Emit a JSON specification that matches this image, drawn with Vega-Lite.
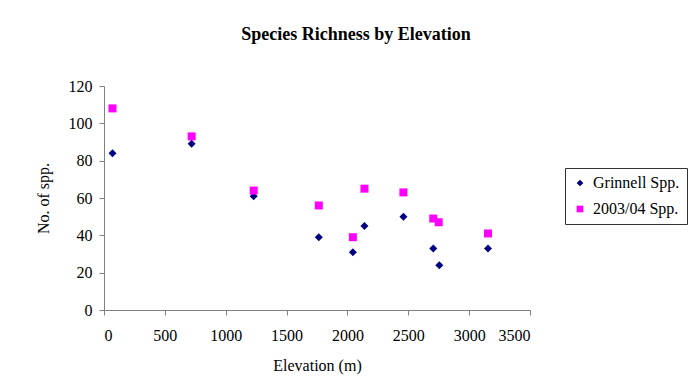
{
  "$schema": "https://vega.github.io/schema/vega-lite/v6.json",
  "autosize": "none",
  "width": 426,
  "height": 224,
  "padding": {"left": 104, "top": 86, "right": 159, "bottom": 81},
  "background": "white",
  "config": {
    "view": {"stroke": null},
    "font": "Liberation Serif, Times New Roman, serif"
  },
  "title": {
    "text": "Species Richness by Elevation",
    "font": "Liberation Serif, Times New Roman, serif",
    "fontSize": 18,
    "fontWeight": "bold",
    "color": "black",
    "anchor": "middle",
    "dx": 39,
    "offset": 34
  },
  "data": {
    "values": [
      {"elevation": 70, "richness": 84, "series": "Grinnell Spp."},
      {"elevation": 720, "richness": 89, "series": "Grinnell Spp."},
      {"elevation": 1230, "richness": 61, "series": "Grinnell Spp."},
      {"elevation": 1765, "richness": 39, "series": "Grinnell Spp."},
      {"elevation": 2045, "richness": 31, "series": "Grinnell Spp."},
      {"elevation": 2140, "richness": 45, "series": "Grinnell Spp."},
      {"elevation": 2460, "richness": 50, "series": "Grinnell Spp."},
      {"elevation": 2705, "richness": 33, "series": "Grinnell Spp."},
      {"elevation": 2755, "richness": 24, "series": "Grinnell Spp."},
      {"elevation": 3155, "richness": 33, "series": "Grinnell Spp."},
      {"elevation": 70, "richness": 108, "series": "2003/04 Spp."},
      {"elevation": 720, "richness": 93, "series": "2003/04 Spp."},
      {"elevation": 1230, "richness": 64, "series": "2003/04 Spp."},
      {"elevation": 1765, "richness": 56, "series": "2003/04 Spp."},
      {"elevation": 2045, "richness": 39, "series": "2003/04 Spp."},
      {"elevation": 2140, "richness": 65, "series": "2003/04 Spp."},
      {"elevation": 2460, "richness": 63, "series": "2003/04 Spp."},
      {"elevation": 2705, "richness": 49, "series": "2003/04 Spp."},
      {"elevation": 2750, "richness": 47, "series": "2003/04 Spp."},
      {"elevation": 3155, "richness": 41, "series": "2003/04 Spp."}
    ]
  },
  "mark": {"type": "point", "filled": true, "opacity": 1, "size": 64},
  "encoding": {
    "x": {
      "field": "elevation",
      "type": "quantitative",
      "scale": {"domain": [0, 3500], "nice": false, "zero": true},
      "axis": {
        "title": "Elevation (m)",
        "values": [0, 500, 1000, 1500, 2000, 2500, 3000, 3500],
        "format": "d",
        "grid": false,
        "domainColor": "#808080",
        "tickColor": "#808080",
        "tickSize": 5,
        "labelFont": "Liberation Serif, Times New Roman, serif",
        "labelFontSize": 16,
        "labelColor": "black",
        "labelPadding": 12,
        "titleFont": "Liberation Serif, Times New Roman, serif",
        "titleFontSize": 16,
        "titleFontWeight": "normal",
        "titleColor": "black",
        "titlePadding": 14
      }
    },
    "y": {
      "field": "richness",
      "type": "quantitative",
      "scale": {"domain": [0, 120], "nice": false},
      "axis": {
        "title": "No. of spp.",
        "values": [0, 20, 40, 60, 80, 100, 120],
        "grid": false,
        "domainColor": "#808080",
        "tickColor": "#808080",
        "tickSize": 5,
        "labelFont": "Liberation Serif, Times New Roman, serif",
        "labelFontSize": 16,
        "labelColor": "black",
        "labelPadding": 7,
        "titleFont": "Liberation Serif, Times New Roman, serif",
        "titleFontSize": 16,
        "titleFontWeight": "normal",
        "titleColor": "black",
        "titlePadding": 17
      }
    },
    "color": {
      "field": "series",
      "type": "nominal",
      "scale": {"domain": ["Grinnell Spp.", "2003/04 Spp."], "range": ["#000080", "#FF00FF"]},
      "legend": {
        "title": null,
        "orient": "none",
        "legendX": 461,
        "legendY": 82,
        "strokeColor": "#333333",
        "fillColor": "white",
        "padding": 7,
        "labelFont": "Liberation Serif, Times New Roman, serif",
        "labelFontSize": 16,
        "labelColor": "black",
        "symbolSize": 45,
        "rowPadding": 10,
        "labelOffset": 5
      }
    },
    "shape": {
      "field": "series",
      "type": "nominal",
      "scale": {"domain": ["Grinnell Spp.", "2003/04 Spp."], "range": ["diamond", "square"]},
      "legend": null
    }
  }
}
